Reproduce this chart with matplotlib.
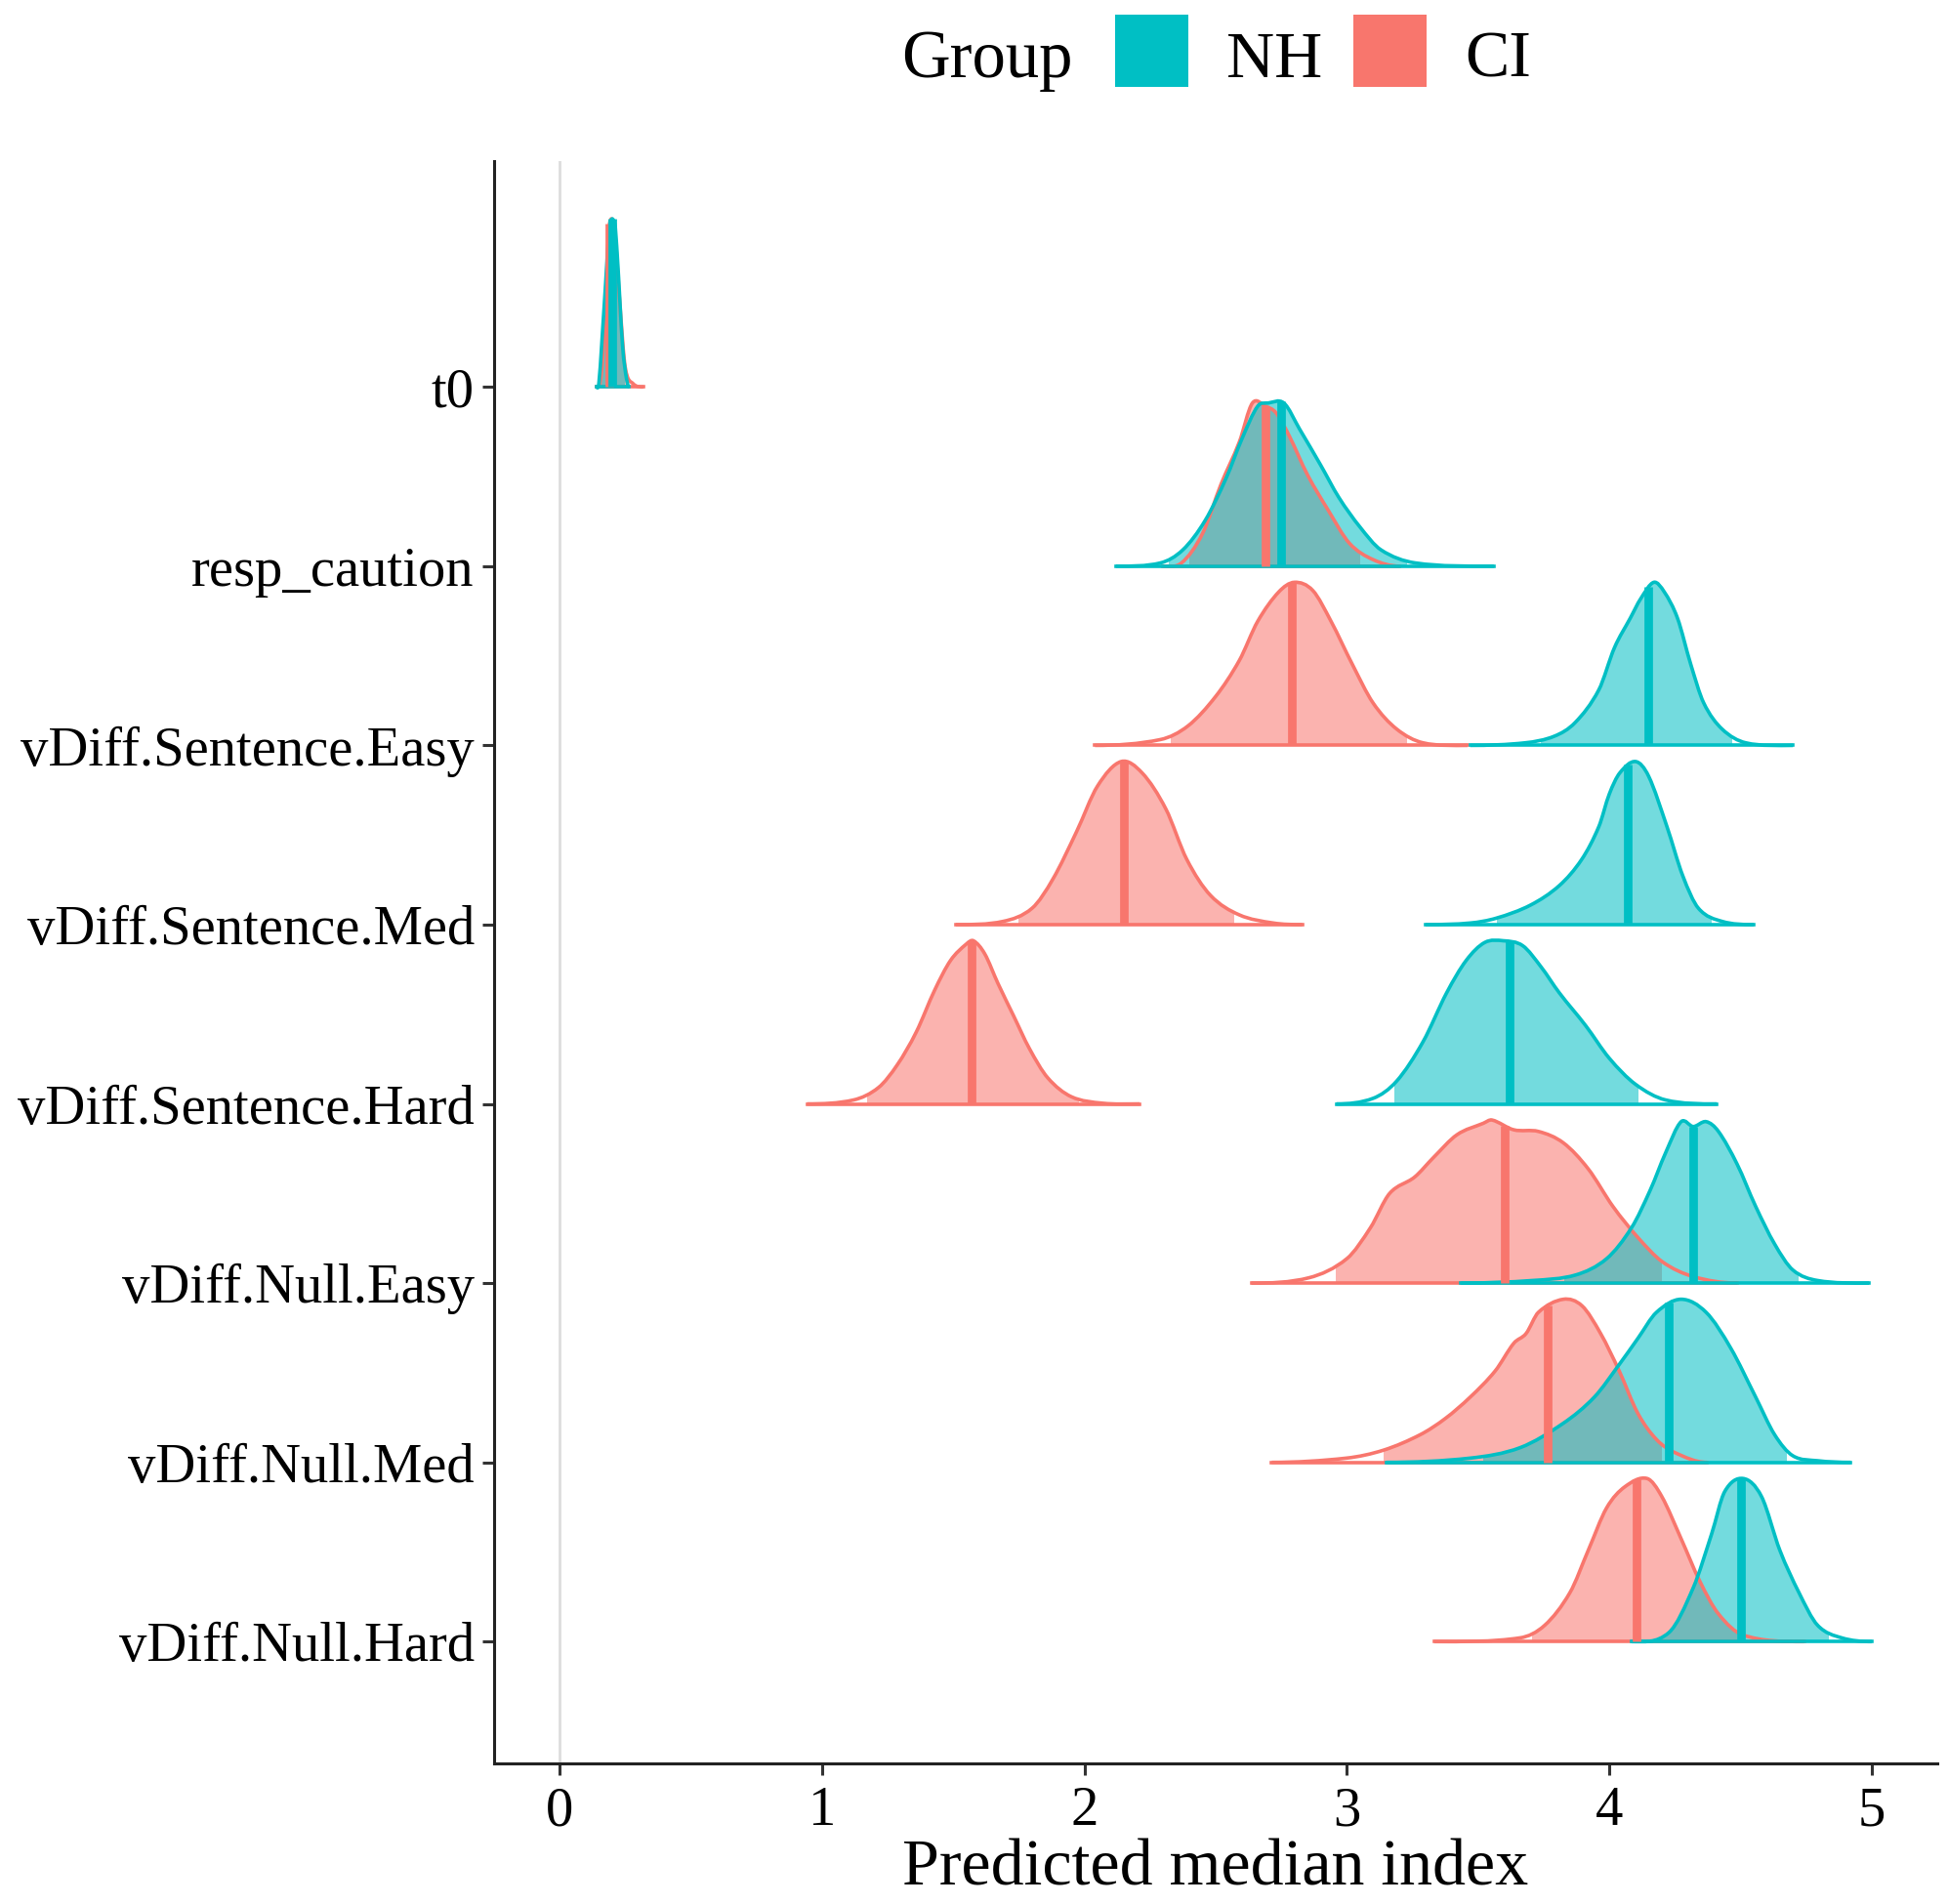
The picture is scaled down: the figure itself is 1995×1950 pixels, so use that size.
import matplotlib.pyplot as plt
import numpy as np
from matplotlib.patches import PathPatch, Rectangle
from matplotlib.path import Path

plt.rcParams["font.family"] = ["Liberation Serif", "DejaVu Serif"]

# parameters from top row to bottom row
PARAMS = [
    "t0",
    "resp_caution",
    "vDiff.Sentence.Easy",
    "vDiff.Sentence.Med",
    "vDiff.Sentence.Hard",
    "vDiff.Null.Easy",
    "vDiff.Null.Med",
    "vDiff.Null.Hard",
]
GROUPS = ["NH", "CI"]
COLOURS = {"NH": "#00BFC4", "CI": "#F8766D"}
X_TICKS = [0, 1, 2, 3, 4, 5]

# density outlines: x values and height relative to the peak
NH_X = [
    [0.14, 0.15, 0.17, 0.19, 0.21, 0.22, 0.24, 0.255, 0.265],
    [2.12, 2.29, 2.375, 2.46, 2.54, 2.60, 2.66, 2.70, 2.76, 2.82, 2.90, 2.97, 3.05, 3.13, 3.26, 3.56],
    [3.47, 3.68, 3.79, 3.87, 3.96, 4.02, 4.08, 4.12, 4.17, 4.21, 4.26, 4.31, 4.36, 4.43, 4.52, 4.70],
    [3.30, 3.47, 3.57, 3.70, 3.81, 3.895, 3.96, 4.00, 4.04, 4.10, 4.15, 4.22, 4.28, 4.34, 4.43, 4.55],
    [2.96, 3.10, 3.19, 3.29, 3.38, 3.455, 3.526, 3.597, 3.67, 3.74, 3.81, 3.91, 4.00, 4.10, 4.215, 4.41],
    [3.435, 3.707, 3.872, 3.99, 4.085, 4.156, 4.215, 4.274, 4.32, 4.369, 4.416, 4.487, 4.558, 4.63, 4.70, 4.794, 4.99],
    [3.15, 3.47, 3.66, 3.825, 3.943, 4.038, 4.109, 4.18, 4.274, 4.369, 4.463, 4.558, 4.63, 4.70, 4.794, 4.92],
    [4.085, 4.227, 4.32, 4.39, 4.44, 4.51, 4.58, 4.65, 4.723, 4.794, 4.886, 5.0],
]
NH_H = [
    [0, 0.03, 0.5, 0.97, 1.0, 0.8, 0.25, 0.05, 0],
    [0, 0.02, 0.1, 0.28, 0.54, 0.78, 0.98, 1.0, 1.0, 0.84, 0.62, 0.42, 0.24, 0.1, 0.02, 0],
    [0, 0.016, 0.056, 0.14, 0.34, 0.6, 0.78, 0.9, 1.0, 0.94, 0.78, 0.5, 0.26, 0.1, 0.016, 0],
    [0, 0.01, 0.04, 0.12, 0.24, 0.4, 0.6, 0.8, 0.93, 1.0, 0.91, 0.6, 0.3, 0.1, 0.02, 0],
    [0, 0.034, 0.14, 0.38, 0.68, 0.88, 0.99, 1.0, 0.97, 0.84, 0.68, 0.48, 0.28, 0.12, 0.024, 0],
    [0, 0.016, 0.05, 0.15, 0.34, 0.57, 0.8, 0.99, 0.96, 0.99, 0.93, 0.73, 0.47, 0.24, 0.08, 0.016, 0],
    [0, 0.026, 0.09, 0.24, 0.40, 0.60, 0.76, 0.92, 1.0, 0.92, 0.70, 0.40, 0.17, 0.04, 0.01, 0],
    [0, 0.055, 0.33, 0.66, 0.92, 1.0, 0.89, 0.56, 0.30, 0.10, 0.023, 0],
]
NH_MEDIAN = [0.20, 2.75, 4.15, 4.07, 3.62, 4.32, 4.227, 4.503]
NH_LOW = [0.155, 2.32, 3.74, 3.57, 3.18, 3.83, 3.52, 4.17]
NH_HIGH = [0.25, 3.23, 4.47, 4.39, 4.11, 4.72, 4.676, 4.837]

CI_X = [
    [0.14, 0.16, 0.18, 0.19, 0.21, 0.23, 0.25, 0.28, 0.32],
    [2.30, 2.37, 2.45, 2.52, 2.59, 2.64, 2.69, 2.73, 2.78, 2.85, 2.93, 3.01, 3.10, 3.20],
    [2.04, 2.29, 2.395, 2.50, 2.59, 2.66, 2.74, 2.80, 2.87, 2.94, 3.02, 3.10, 3.19, 3.29, 3.46],
    [1.51, 1.69, 1.80, 1.88, 1.97, 2.05, 2.14, 2.22, 2.31, 2.39, 2.48, 2.59, 2.72, 2.83],
    [0.943, 1.12, 1.215, 1.287, 1.359, 1.43, 1.49, 1.55, 1.577, 1.62, 1.67, 1.73, 1.79, 1.86, 1.95, 2.07, 2.21],
    [2.636, 2.856, 3.0, 3.09, 3.163, 3.258, 3.33, 3.42, 3.52, 3.553, 3.636, 3.73, 3.825, 3.92, 4.014, 4.109, 4.203, 4.32, 4.487],
    [2.714, 2.998, 3.14, 3.28, 3.376, 3.47, 3.565, 3.636, 3.683, 3.73, 3.825, 3.896, 3.967, 4.038, 4.109, 4.18, 4.25, 4.37],
    [3.333, 3.66, 3.754, 3.85, 3.92, 3.99, 4.06, 4.144, 4.2, 4.274, 4.345, 4.416, 4.51, 4.742],
]
CI_H = [
    [0, 0.1, 0.7, 1.0, 0.95, 0.5, 0.12, 0.02, 0],
    [0, 0.02, 0.2, 0.5, 0.76, 1.0, 0.98, 0.94, 0.8, 0.56, 0.34, 0.14, 0.04, 0],
    [0, 0.036, 0.12, 0.30, 0.52, 0.76, 0.94, 1.0, 0.95, 0.76, 0.5, 0.26, 0.1, 0.016, 0],
    [0, 0.02, 0.1, 0.28, 0.57, 0.85, 1.0, 0.93, 0.71, 0.4, 0.18, 0.06, 0.01, 0],
    [0, 0.024, 0.1, 0.24, 0.44, 0.7, 0.88, 0.98, 1.0, 0.92, 0.74, 0.54, 0.34, 0.16, 0.044, 0.004, 0],
    [0, 0.033, 0.15, 0.34, 0.55, 0.65, 0.77, 0.91, 0.98, 1.0, 0.94, 0.93, 0.86, 0.70, 0.47, 0.28, 0.13, 0.04, 0],
    [0, 0.026, 0.075, 0.17, 0.27, 0.40, 0.56, 0.73, 0.79, 0.92, 1.0, 0.96, 0.79, 0.56, 0.30, 0.14, 0.06, 0],
    [0, 0.023, 0.1, 0.3, 0.56, 0.82, 0.95, 1.0, 0.89, 0.63, 0.37, 0.17, 0.04, 0],
]
CI_MEDIAN = [0.19, 2.69, 2.79, 2.15, 1.57, 3.60, 3.766, 4.104]
CI_LOW = [0.16, 2.40, 2.33, 1.75, 1.17, 2.957, 3.14, 3.707]
CI_HIGH = [0.26, 3.05, 3.23, 2.57, 1.98, 4.20, 4.20, 4.487]

RIDGE_HEIGHT = 0.91
LINE_W = 2.6


def slopes(xs, ys):
    # finite-difference tangents, flat at both ends
    m = np.zeros(len(xs))
    m[1:-1] = (ys[2:] - ys[:-2]) / (xs[2:] - xs[:-2])
    return m


def smooth_curve(xs, ys):
    # cubic Bezier segments through the knots (x stays monotone)
    m = slopes(xs, ys)
    verts = [(xs[0], ys[0])]
    codes = [Path.MOVETO]
    for i in range(len(xs) - 1):
        dx = xs[i + 1] - xs[i]
        verts += [
            (xs[i] + dx / 3, ys[i] + m[i] * dx / 3),
            (xs[i + 1] - dx / 3, ys[i + 1] - m[i + 1] * dx / 3),
            (xs[i + 1], ys[i + 1]),
        ]
        codes += [Path.CURVE4] * 3
    return verts, codes


def height_at(xs, ys, x):
    m = slopes(xs, ys)
    i = min(max(np.searchsorted(xs, x) - 1, 0), len(xs) - 2)
    dx = xs[i + 1] - xs[i]
    t = (x - xs[i]) / dx
    p0, p3 = ys[i], ys[i + 1]
    p1, p2 = p0 + m[i] * dx / 3, p3 - m[i + 1] * dx / 3
    return (1 - t) ** 3 * p0 + 3 * (1 - t) ** 2 * t * p1 + 3 * (1 - t) * t ** 2 * p2 + t ** 3 * p3


def draw_fill(ax, base, xs, hs, low, high, colour):
    xs = np.asarray(xs, float)
    ys = base + RIDGE_HEIGHT * np.asarray(hs, float)
    verts, codes = smooth_curve(xs, ys)
    verts += [(xs[-1], base), (xs[0], base), (xs[0], base)]
    codes += [Path.LINETO, Path.LINETO, Path.CLOSEPOLY]
    patch = PathPatch(Path(verts, codes), facecolor=colour, alpha=0.55, edgecolor="none", zorder=2)
    ax.add_patch(patch)
    patch.set_clip_path(Rectangle((low, base), high - low, 1.5, transform=ax.transData))


def draw_outline(ax, base, xs, hs, median, colour):
    xs = np.asarray(xs, float)
    ys = base + RIDGE_HEIGHT * np.asarray(hs, float)
    verts, codes = smooth_curve(xs, ys)
    ax.add_patch(PathPatch(Path(verts, codes), facecolor="none", edgecolor=colour, lw=LINE_W,
                           joinstyle="round", zorder=3))
    ax.plot([xs[0], xs[-1]], [base, base], color=colour, lw=LINE_W, zorder=3)
    top = height_at(xs, ys, median)
    ax.plot([median, median], [base, top], color=colour, lw=6.3, zorder=4, solid_capstyle="butt")


fig = plt.figure(figsize=(19.95, 19.5), dpi=100)
ax = fig.add_axes([0.2536, 0.0738, 0.7409, 0.8416])

bases = np.arange(len(PARAMS), 0, -1)
ax.axvline(0, color="#DDDDDD", lw=2, zorder=1)

series = {
    "CI": (CI_X, CI_H, CI_MEDIAN, CI_LOW, CI_HIGH),
    "NH": (NH_X, NH_H, NH_MEDIAN, NH_LOW, NH_HIGH),
}
for group in ["CI", "NH"]:
    xs_all, hs_all, med, low, high = series[group]
    for i, base in enumerate(bases):
        draw_fill(ax, base, xs_all[i], hs_all[i], low[i], high[i], COLOURS[group])
for group in ["CI", "NH"]:
    xs_all, hs_all, med, low, high = series[group]
    for i, base in enumerate(bases):
        draw_outline(ax, base, xs_all[i], hs_all[i], med[i], COLOURS[group])

ax.set_xlim(-0.25, 5.25)
ax.set_ylim(0.32, 9.26)
ax.set_yticks(bases)
ax.set_yticklabels(PARAMS)
ax.set_xticks(X_TICKS)
ax.set_xticklabels([str(t) for t in X_TICKS])
ax.set_xlabel("Predicted median index", fontsize=49, labelpad=2)

for side in ["top", "right"]:
    ax.spines[side].set_visible(False)
for side in ["left", "bottom"]:
    ax.spines[side].set_linewidth(2.2)
    ax.spines[side].set_color("#222222")
ax.tick_params(axis="both", length=8.5, width=2.2, color="#333333", labelsize=40.8, labelcolor="black")
ax.tick_params(axis="y", pad=6)
ax.tick_params(axis="x", pad=8)

# legend across the top
fig.text(0.4627, 0.9595, "Group", fontsize=49.5, va="baseline")
key_x = {"NH": 0.5724, "CI": 0.6947}
text_x = {"NH": 0.6296, "CI": 0.7519}
for group in GROUPS:
    fig.patches.append(Rectangle((key_x[group], 0.9544), 0.0376, 0.0379, transform=fig.transFigure,
                                 facecolor=COLOURS[group], edgecolor="none"))
    fig.text(text_x[group], 0.9595, group, fontsize=49, va="baseline")

fig.savefig("out.png", dpi=100)
